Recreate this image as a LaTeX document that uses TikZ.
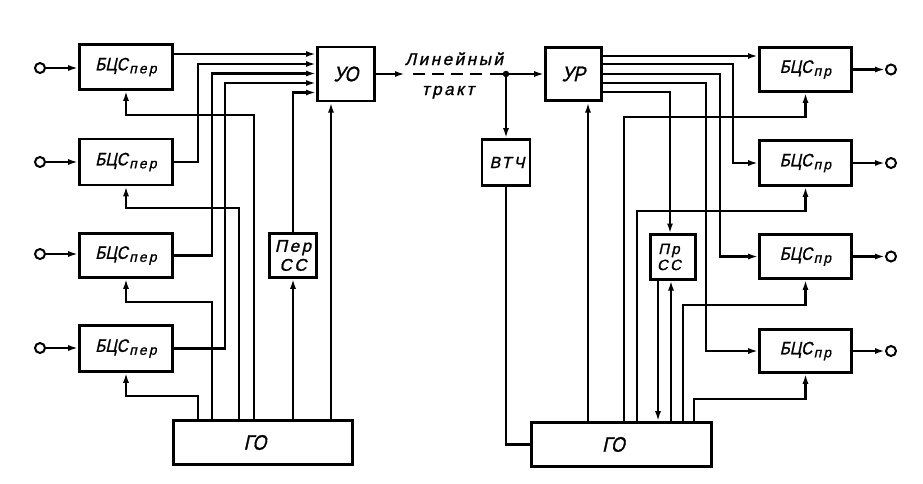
\documentclass[tikz,border=0pt]{standalone}
\usepackage{fontspec}
\setmainfont{Liberation Sans}
\newfontfamily\gost[FakeSlant=0.22,FakeStretch=0.85,FakeBold=1.2]{Liberation Sans}
\newfontfamily\gostw[FakeSlant=0.22,LetterSpace=15,FakeBold=1.2]{Liberation Sans}
\usetikzlibrary{arrows.meta}
\newcommand\bcslabel[1]{{\gost\fontsize{18}{20}\selectfont БЦС}\hspace{1.5pt}\raisebox{-3pt}{\gostw\fontsize{14}{14}\selectfont #1}}
\begin{document}
\begin{tikzpicture}[x=1pt,y=-1pt,
  blk/.style={draw,line width=2.6pt,inner sep=0pt,font=\gost\fontsize{18}{20}\selectfont},
  conn/.style={line width=2.2pt},
  arr/.style={conn,-{Latex[length=10pt,width=6pt]}},
  port/.style={circle,draw,line width=2pt,minimum size=10pt,inner sep=0pt},
  lbl/.style={font=\gostw\fontsize{17}{18}\selectfont,inner sep=0pt,anchor=base}
]
\fill[white] (0,0) rectangle (923,483);
\useasboundingbox (0,0) rectangle (923,483);

% ---------- left part ----------
\node[blk,minimum width=93pt,minimum height=45pt] (b1) at (126,67) {\bcslabel{пер}};
\node[blk,minimum width=93pt,minimum height=46pt] (b2) at (126,162) {\bcslabel{пер}};
\node[blk,minimum width=93pt,minimum height=44pt] (b3) at (126,255.5) {\bcslabel{пер}};
\node[blk,minimum width=93pt,minimum height=46pt] (b4) at (126,348.5) {\bcslabel{пер}};
\node[blk,minimum width=57pt,minimum height=54pt,font=\gost\fontsize{21}{22}\selectfont] (uo) at (346,74) {УО};
\node[blk,minimum width=47pt,minimum height=44pt,align=center,font=\gostw\fontsize{17}{19}\selectfont] (pss) at (293,255.5) {Пер\\СС};
\node[blk,minimum width=179pt,minimum height=44pt,font=\gost\fontsize{21}{22}\selectfont] (gol) at (263,442.5) {\hspace*{-16pt}ГО};

\node[port] (i1) at (40,68) {};
\node[port] (i2) at (40,162) {};
\node[port] (i3) at (40,254) {};
\node[port] (i4) at (40,348) {};

\draw[arr] (i1) -- (i1 -| b1.west);
\draw[arr] (i2) -- (i2 -| b2.west);
\draw[arr] (i3) -- (i3 -| b3.west);
\draw[arr] (i4) -- (i4 -| b4.west);

\coordinate (uo1) at (316,54);
\coordinate (uo2) at (316,64);
\coordinate (uo3) at (316,73.5);
\coordinate (uo4) at (316,83);
\coordinate (uo5) at (316,92.5);
\coordinate (uob) at (331,102.5);

\draw[arr] (uo1 -| b1.east) -- (uo1);
\draw[arr] (b2.east) -- ++(24,0) |- (uo2);
\draw[arr] (b3.east) -- ++(38,0) |- (uo3);
\draw[arr] (b4.east) -- ++(51,0) |- (uo4);
\draw[arr] (pss.north) |- (uo5);
\draw[arr] (uob |- gol.north) -- (uob);
\draw[arr] (pss.south |- gol.north) -- (pss.south);

\draw[arr] ([xshift=26pt]gol.north west) -- ++(0,-23) -| (b4.south);
\draw[arr] ([xshift=40pt]gol.north west) -- ++(0,-117) -| (b3.south);
\draw[arr] ([xshift=67pt]gol.north west) -- ++(0,-211) -| (b2.south);
\draw[arr] ([xshift=82pt]gol.north west) -- ++(0,-304) -| (b1.south);

% ---------- line ----------
\coordinate (la) at (405,74);
\coordinate (lb) at (413,74);
\coordinate (lc) at (482,74);
\coordinate (ld) at (490,74);
\node[circle,fill,inner sep=0pt,minimum size=6.5pt] (dot) at (506,74) {};
\draw[arr] (uo.east) -- (la);
\draw[conn,dash pattern=on 12pt off 7pt] (lb) -- (lc);
\draw[conn] (ld) -- (dot);
\node[lbl,xshift=2pt] (lin) at (452,65) {Линейный};
\node[lbl] (trk) at (448,95) {тракт};

% ---------- right part ----------
\node[blk,minimum width=48pt,minimum height=46pt,font=\gostw\fontsize{16}{20}\selectfont] (vtch) at (506,162.5) {\hspace*{2pt}ВТЧ};
\node[blk,minimum width=56pt,minimum height=53pt,font=\gost\fontsize{21}{22}\selectfont] (ur) at (573.5,74) {УР};
\node[blk,minimum width=45pt,minimum height=45pt,align=center,font=\gostw\fontsize{15}{16}\selectfont] (prss) at (673,257) {\hspace*{-8pt}Пр\\\hspace*{-8pt}СС};
\node[blk,minimum width=180pt,minimum height=44pt,font=\gost\fontsize{21}{22}\selectfont] (gor) at (621.5,444.5) {\hspace*{-16pt}ГО};

\node[blk,minimum width=92pt,minimum height=44pt] (r1) at (805.5,69.5) {\bcslabel{пр}};
\node[blk,minimum width=92pt,minimum height=45pt] (r2) at (805.5,163) {\bcslabel{пр}};
\node[blk,minimum width=92pt,minimum height=44pt] (r3) at (805.5,256.5) {\bcslabel{пр}};
\node[blk,minimum width=92pt,minimum height=43pt] (r4) at (805.5,351) {\bcslabel{пр}};

\node[port] (o1) at (891,69.5) {};
\node[port] (o2) at (891,163) {};
\node[port] (o3) at (891,256.5) {};
\node[port] (o4) at (891,351) {};

\draw[arr] (dot) -- (ur.west);
\draw[arr] (dot) -- (vtch.north);
\draw[conn] (vtch.south) |- (gor.west);

\coordinate (r1in) at (758,56);
\coordinate (u2) at (603,64);
\coordinate (u3) at (603,74);
\coordinate (u4) at (603,83);
\coordinate (u5) at (603,92);
\coordinate (pt) at (670,233.5);
\coordinate (urb) at (588,102.5);
\coordinate (pd) at (658,280.5);
\coordinate (pu) at (671,280.5);

\draw[arr] (r1in -| ur.east) -- (r1in);
\draw[arr] (u2) -| ([xshift=-25pt]r2.west) -- (r2.west);
\draw[arr] (u3) -| ([xshift=-38pt]r3.west) -- (r3.west);
\draw[arr] (u4) -| ([xshift=-52pt]r4.west) -- (r4.west);
\draw[arr] (u5) -| (pt);
\draw[arr] (urb |- gor.north) -- (urb);
\draw[arr] (pd) -- (pd |- gor.north);
\draw[arr] (pu |- gor.north) -- (pu);

\draw[arr] ([xshift=94pt]gor.north west) -- ++(0,-304) -| (r1.south);
\draw[arr] ([xshift=107pt]gor.north west) -- ++(0,-210) -| (r2.south);
\draw[arr] ([xshift=153pt]gor.north west) -- ++(0,-116) -| (r3.south);
\draw[arr] ([xshift=164pt]gor.north west) -- ++(0,-22) -| (r4.south);

\draw[arr] (r1.east) -- (o1);
\draw[arr] (r2.east) -- (o2);
\draw[arr] (r3.east) -- (o3);
\draw[arr] (r4.east) -- (o4);
\end{tikzpicture}
\end{document}
